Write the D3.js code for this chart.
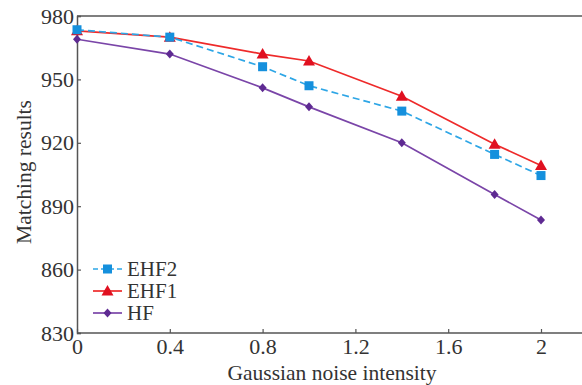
<!DOCTYPE html>
<html><head><meta charset="utf-8">
<script src="https://cdn.jsdelivr.net/npm/d3@7"></script>
<style>body{margin:0;background:#fff}svg{display:block}</style>
</head><body>
<svg id="c" width="582" height="385"></svg>
<script>
const xValues = [0, 0.4, 0.8, 1.0, 1.4, 1.8, 2.0];
const seriesNames = ["EHF2", "EHF1", "HF"];
const ehf2 = [973.5, 970, 956, 947, 935, 914.5, 904.5];
const ehf1 = [973, 970, 962, 958.7, 942, 919.3, 909.3];
const hf   = [969, 962, 946, 937, 920, 895.5, 883.5];
const xTicks = [0, 0.4, 0.8, 1.2, 1.6, 2];
const yTicks = [830, 860, 890, 920, 950, 980];

const svg = d3.select("#c");
const mLeft = 77, mTop = 16, mBottom = 333;
const x = d3.scaleLinear().domain([0, 2]).range([mLeft, 541]);
const y = d3.scaleLinear().domain([830, 980]).range([mBottom, mTop]);
const font = "'Liberation Serif','Times New Roman',serif";
const axisColor = "#555";

svg.append("line").attr("x1", mLeft).attr("x2", 582).attr("y1", mTop).attr("y2", mTop)
  .attr("stroke", axisColor).attr("stroke-width", 1.5);

const xa = svg.append("g").attr("transform", `translate(0,${mBottom})`)
  .call(d3.axisBottom(x).tickValues(xTicks).tickSize(-4).tickPadding(5)
    .tickFormat(d => String(+d.toFixed(1))));
xa.select(".domain").attr("d", `M${mLeft},0H582`);
const ya = svg.append("g").attr("transform", `translate(${mLeft},0)`)
  .call(d3.axisLeft(y).tickValues(yTicks).tickSize(-4).tickPadding(3));
[xa, ya].forEach(a => {
  a.select(".domain").attr("stroke", axisColor).attr("stroke-width", 1.5);
  a.selectAll(".tick line").attr("stroke", axisColor).attr("stroke-width", 1.2);
  a.selectAll("text").attr("font-family", font).attr("font-size", 22).attr("fill", "#333");
});

svg.append("text").attr("x", 332).attr("y", 380).attr("text-anchor", "middle")
  .attr("font-family", font).attr("font-size", 21.5).attr("fill", "#333")
  .text("Gaussian noise intensity");
svg.append("text").attr("transform", "translate(31,172) rotate(-90)").attr("text-anchor", "middle")
  .attr("font-family", font).attr("font-size", 21.5).attr("fill", "#333")
  .text("Matching results");

const series = [
  {name: seriesNames[0], vals: ehf2, color: "#2ea6e6", mcolor: "#1590dd", dash: "7,4", marker: "square"},
  {name: seriesNames[1], vals: ehf1, color: "#ee2a2a", mcolor: "#e01020", dash: null, marker: "triangle"},
  {name: seriesNames[2], vals: hf,   color: "#7a45a8", mcolor: "#5e2a92", dash: null, marker: "diamond"}
];
const line = d3.line().x((d, i) => x(xValues[i])).y(d => y(d));
function drawMarker(g, type, cx, cy, color) {
  if (type === "square") g.append("rect").attr("x", cx - 4.5).attr("y", cy - 4.5).attr("width", 9).attr("height", 9).attr("fill", color);
  else if (type === "triangle") g.append("path").attr("d", `M${cx},${cy-6}L${cx+6},${cy+4.5}L${cx-6},${cy+4.5}Z`).attr("fill", color);
  else g.append("path").attr("d", `M${cx},${cy-4.5}L${cx+4},${cy}L${cx},${cy+4.5}L${cx-4},${cy}Z`).attr("fill", color);
}
[series[2], series[1], series[0]].forEach(s => {
  svg.append("path").datum(s.vals).attr("d", line).attr("fill", "none")
    .attr("stroke", s.color).attr("stroke-width", 1.7)
    .attr("stroke-dasharray", s.dash);
  const g = svg.append("g");
  s.vals.forEach((v, i) => drawMarker(g, s.marker, x(xValues[i]), y(v), s.mcolor));
});

const legY = [269, 291, 313];
series.forEach((s, i) => {
  const g = svg.append("g");
  g.append("line").attr("x1", 93).attr("x2", 122).attr("y1", legY[i]).attr("y2", legY[i])
    .attr("stroke", s.color).attr("stroke-width", 1.7).attr("stroke-dasharray", s.dash ? "5,3" : null);
  drawMarker(g, s.marker, 107.5, legY[i], s.mcolor);
  g.append("text").attr("x", 127).attr("y", legY[i] + 7).attr("font-family", font)
    .attr("font-size", 21).attr("fill", "#333").text(s.name);
});
</script>
</body></html>
